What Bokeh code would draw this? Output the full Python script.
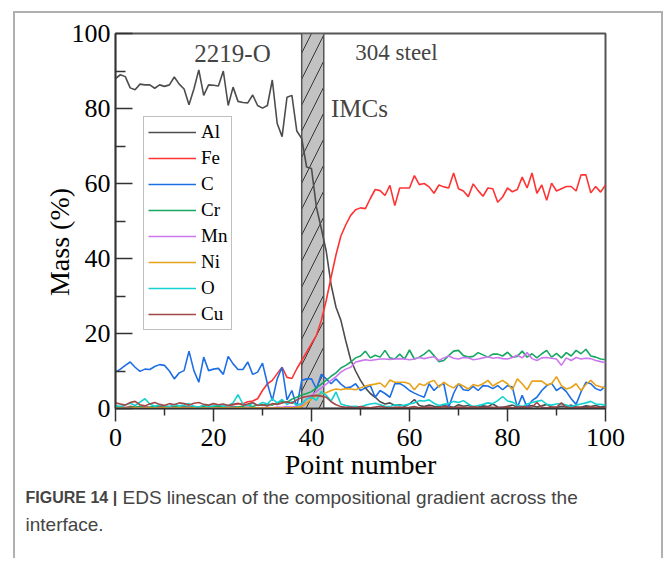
from bokeh.plotting import figure
from bokeh.models import Label, FixedTicker, Range1d
from bokeh.embed import file_html
from bokeh.resources import INLINE

# ---------------- data ----------------
point = list(range(101))

al = [88, 89, 88.5, 85.5, 85, 86.5, 86.3, 86.3, 85.4, 86.3,
      85.9, 86.3, 88.4, 86.5, 85.2, 81, 85.2, 90.3, 83.5, 86.3,
      86.2, 86, 90, 80.8, 85.7, 81.9, 81.6, 81.5, 83.6, 80.8,
      80.1, 80.8, 87.6, 76, 72.5, 83, 83.5, 74, 72, 64.4,
      64, 53.7, 48, 42, 33, 27, 23.5, 18, 13, 10,
      7.5, 5.5, 4, 3, 1.8, 1.2, 1.5, 0.8, 1.0, 0.6,
      1.2, 2.4, 0.8, 0.5, 0.9, 0.6, 0.4, 0.8, 0.5, 0.3,
      1.0, 0.6, 0.8, 0.4, 0.3, 0.7, 0.5, 1.2, 0.4, 0.3,
      0.6, 0.9, 0.4, 0.3, 0.5, 0.8, 0.4, 0.7, 1.1, 0.4,
      0.3, 0.6, 0.5, 0.9, 0.4, 0.3, 0.7, 0.5, 0.8, 0.4, 0.6]

fe = [0.3, 0.5, 0.2, 0.6, 0.4, 0.3, 0.5, 0.2, 0.4, 0.6,
      0.3, 0.5, 0.4, 0.2, 0.6, 0.3, 0.5, 0.4, 0.7, 0.3,
      0.5, 0.4, 0.6, 0.8, 1.0, 1.2, 1.3, 1.8, 2.0, 2.6,
      4.8, 6.6, 7.5, 9.3, 11, 8.3, 8.0, 10.6, 12.8, 15,
      17.3, 19.5, 23.5, 28.8, 35, 41, 46, 49, 51.5, 53,
      53.5, 53.3, 56, 58.4, 58.1, 56.8, 59.5, 54.1, 58.8, 58.8,
      58.8, 62.1, 59.7, 60, 59.1, 57.4, 59.6, 59.1, 58.8, 62.8,
      58.6, 58, 56.5, 59.9, 58.1, 56.6, 58.8, 58.6, 55, 56.4,
      58.8, 57.8, 58.4, 61.7, 58.8, 62.8, 57.4, 59.6, 55.5, 60.1,
      58, 58.6, 59.2, 59.2, 58, 62.3, 62.3, 57.5, 59.2, 57.7, 59.6]

c = [9.7, 10.5, 11.5, 12.4, 11, 9.9, 10.5, 10.4, 11.2, 11.7,
     11.5, 10, 7.9, 9.5, 10.1, 15.3, 10.1, 7, 13.7, 10.1,
     10.5, 10.7, 9.1, 13.9, 11.9, 10.4, 10.4, 12.4, 9.1, 9.7,
     12.1, 6.6, 2.1, 7.9, 11, 2.3, 4.8, 0.4, 7.5, 7.9,
     7.9, 5.2, 9.1, 7.9, 6.6, 7.9, 6.5, 5.5, 5.7, 6.6,
     4.8, 5.5, 6.1, 3, 4.8, 4, 3, 6.6, 6.7, 5.9,
     4.8, 4.1, 3.5, 3, 6.6, 4.8, 6.1, 6.6, 0.3, 4,
     6.6, 5, 4.8, 5.9, 4.8, 6.1, 6, 5.3, 6.1, 5,
     6.1, 5.7, 0.3, 3.5, 0.3, 2.1, 3, 4.8, 6.1, 6.7,
     4.8, 5.7, 4.5, 2.6, 1.1, 4.4, 7, 6.6, 5.3, 4.8, 6]

cr = [0.3, 0.5, 0.2, 0.4, 0.3, 0.6, 0.2, 0.4, 0.5, 0.3,
      0.4, 0.2, 0.5, 0.3, 0.4, 0.6, 0.3, 0.2, 0.5, 0.4,
      0.3, 0.6, 0.4, 0.3, 0.5, 0.4, 0.6, 0.8, 0.5, 1.0,
      0.8, 1.2, 0.9, 1.5, 2.0, 1.6, 2.5, 3.0, 3.6, 4.0,
      4.5, 5.5, 6.5, 7.5, 8.6, 9.5, 10.8, 11.5, 12.4, 13.5,
      14.0, 15.3, 13.5, 14.2, 13.7, 15.5, 13.5, 13.2, 14.5, 13.2,
      15.6, 13.2, 13.7, 14.5, 15.6, 14.1, 12.5, 12.8, 14.1, 15.3,
      15.5, 14.1, 13.7, 13.9, 14.9, 14.3, 13.7, 14.5, 14.5, 14,
      15, 13.7, 13.9, 15.3, 13.7, 14.6, 13.5, 14.6, 15.5, 13.7,
      14.7, 13.5, 14.9, 14, 15.5, 14.6, 15.8, 14, 13.7, 13.2, 13]

mn = [0.2, 0.1, 0.3, 0.2, 0.1, 0.2, 0.3, 0.1, 0.2, 0.2,
      0.1, 0.3, 0.2, 0.1, 0.2, 0.3, 0.2, 0.1, 0.2, 0.3,
      0.2, 0.1, 0.2, 0.2, 0.3, 0.1, 0.2, 0.3, 0.2, 0.1,
      0.2, 0.3, 0.2, 0.4, 0.3, 0.5, 0.4, 0.6, 0.8, 2.5,
      3.5, 4.5, 5.5, 6.5, 7.5, 8.5, 9.7, 10.5, 11, 12.4,
      12.7, 13, 12.8, 13, 13.2, 13.2, 13.1, 13.2, 13.3, 13.2,
      13, 13.2, 13.6, 13.3, 13.6, 13.8, 12.8, 13.5, 14, 13.4,
      13.2, 13.6, 13.5, 13, 13.2, 13.5, 13.8, 13.4, 13.6, 13.3,
      13.2, 13.6, 14.2, 13.5, 14.9, 13.3, 12.8, 13.5, 13.6, 13.4,
      13.2, 11.5, 13.5, 12.8, 13.6, 13.2, 13.4, 13.3, 12.8, 12.5, 12.2]

ni = [0.1, 0.2, 0.1, 0.1, 0.2, 0.1, 0.1, 0.2, 0.1, 0.1,
      0.2, 0.1, 0.1, 0.2, 0.1, 0.1, 0.2, 0.1, 0.1, 0.2,
      0.1, 0.1, 0.2, 0.1, 0.1, 0.2, 0.1, 0.1, 0.2, 0.1,
      0.1, 0.2, 0.1, 0.2, 0.1, 0.2, 0.2, 0.3, 0.5, 1.5,
      2.5, 3.5, 4, 4.2, 4.8, 5.2, 5, 5.3, 5.2, 5,
      5.5, 6, 6.3, 6.5, 6.8, 5.7, 7.6, 7, 7, 7,
      6.6, 5, 6.6, 6.1, 7, 7.5, 5.7, 7, 6.1, 5.5,
      6.6, 6, 5.2, 6.4, 6, 6.6, 7.5, 6, 6.8, 7.5,
      6.6, 5, 7.9, 6.6, 5, 7.3, 7.3, 7.3, 6.3, 6.6,
      8.5, 6.1, 5.2, 5.6, 6.6, 4.8, 6.4, 7.5, 6.2, 5.8, 5.5]

o = [0.8, 0.5, 1.0, 1.4, 0.8, 1.7, 2.6, 1.2, 0.6, 1.0,
     0.8, 0.5, 1.1, 0.7, 0.9, 1.3, 0.6, 0.4, 0.9, 0.5,
     0.7, 1.0, 0.6, 0.8, 1.5, 3.7, 1.2, 0.8, 1.4, 0.9,
     1.6, 1.2, 2.6, 1.5, 2.4, 1.1, 1.8, 0.9, 1.3, 2.5,
     3.0, 2.2, 4.5, 3.5, 2.0, 4.4, 1.2, 0.8, 0.5, 0.6,
     0.4, 0.9, 1.2, 1.4, 1.0, 0.6, 0.5, 1.0, 0.8, 0.9,
     1.2, 1.5, 2.1, 2.0, 2.3, 1.4, 0.8, 1.1, 1.3, 1.9,
     1.6, 2.1, 1.2, 0.5, 0.8, 1.1, 1.5, 1.3, 2.1, 3.2,
     2.0, 1.7, 0.9, 0.5, 1.2, 1.6, 1.9, 2.2, 1.1, 0.9,
     1.2, 1.3, 0.9, 0.5, 0.9, 1.2, 1.5, 1.9, 1.2, 1.1, 0.9]

cu = [1.5, 1.2, 0.9, 1.6, 1.9, 1.0, 0.7, 1.2, 1.6, 1.1,
      0.8, 1.3, 1.0, 1.5, 1.3, 0.9, 1.4, 1.6, 1.1, 0.9,
      1.3, 1.0, 1.2, 0.8, 1.1, 1.4, 0.9, 1.2, 1.6, 0.8,
      1.0, 0.7, 1.3, 1.1, 1.5, 1.8, 1.4, 2.3, 2.9, 3.2,
      3.4, 3.5, 3.3, 3.0, 1.8, 1.0, 0.5, 0.3, 0.4, 0.2,
      0.5, 0.3, 0.2, 0.4, 0.6, 0.3, 0.2, 0.3, 0.4, 0.2,
      0.3, 0.5, 0.2, 0.3, 0.4, 0.2, 0.3, 0.5, 0.3, 0.2,
      0.4, 0.3, 0.2, 0.5, 0.3, 0.2, 0.4, 0.3, 0.2, 0.3,
      0.4, 0.2, 0.3, 0.5, 0.3, 0.4, 1.6, 0.3, 0.2, 0.4,
      0.3, 1.5, 0.3, 0.2, 0.4, 0.3, 0.2, 0.4, 0.3, 0.2, 0.3]

series_names = ["Al", "Fe", "C", "Cr", "Mn", "Ni", "O", "Cu"]
series_values = [al, fe, c, cr, mn, ni, o, cu]
series_colors = ["#4d4d4d", "#ff3333", "#1e6fe6", "#16a862",
                 "#cc77ee", "#e8a21a", "#14d2d2", "#a34848"]

imc_band = [38, 42.5]
x_ticks = [0, 20, 40, 60, 80, 100]
x_minor = [10, 30, 50, 70, 90]
y_ticks = [0, 20, 40, 60, 80, 100]
y_minor = [10, 30, 50, 70, 90]

SERIF = "Liberation Serif"
SANS = "Liberation Sans"
NBSP = "\u00a0"

# ---------------- figure ----------------
p = figure(frame_width=490, frame_height=375,
           min_border_left=100, min_border_right=56,
           min_border_top=20, min_border_bottom=150,
           x_range=Range1d(0, 100), y_range=Range1d(0, 100),
           output_backend="svg", toolbar_location=None,
           background_fill_color="white", border_fill_color="white")
p.styles = {"margin-left": "13px", "margin-top": "11px",
            "border-left": "2px solid #b0b0b0",
            "border-top": "2px solid #b0b0b0",
            "border-right": "2px solid #b0b0b0"}

p.grid.visible = False
p.outline_line_color = "#555555"
p.outline_line_width = 2

# IMC band (hatched)
p.quad(left=[imc_band[0]], right=[imc_band[1]], bottom=[0], top=[100],
       fill_color="#c2c2c2", line_color="#555555", line_width=1.5,
       hatch_pattern="/", hatch_color="#333333", hatch_scale=26,
       hatch_weight=1)

for name, vals, col in zip(series_names, series_values, series_colors):
    p.line(point, vals, line_color=col, line_width=1.6, legend_label=name)

# axes
for ax in (p.xaxis[0], p.yaxis[0]):
    ax.axis_line_color = "#333333"
    ax.axis_line_width = 1.5
    ax.major_tick_line_color = "#333333"
    ax.minor_tick_line_color = "#333333"
    ax.major_tick_line_width = 1.5
    ax.minor_tick_line_width = 1.5
    ax.major_label_text_font = SERIF
    ax.major_label_text_font_size = "26px"
    ax.major_label_text_color = "black"
    ax.axis_label_text_font = SERIF
    ax.axis_label_text_font_size = "28px"
    ax.axis_label_text_font_style = "normal"
    ax.axis_label_text_color = "black"

p.xaxis.ticker = FixedTicker(ticks=x_ticks, minor_ticks=x_minor)
p.yaxis.ticker = FixedTicker(ticks=y_ticks, minor_ticks=y_minor)
p.xaxis.axis_label = "Point number"
p.yaxis.axis_label = "Mass (%)" + NBSP * 6

p.xaxis.major_tick_in = 0
p.xaxis.major_tick_out = 13
p.xaxis.minor_tick_in = 0
p.xaxis.minor_tick_out = 7
p.xaxis.major_label_standoff = 7
p.xaxis.axis_label_standoff = 0

p.yaxis.major_tick_in = 17
p.yaxis.major_tick_out = 0
p.yaxis.minor_tick_in = 10
p.yaxis.minor_tick_out = 0
p.yaxis.major_label_standoff = 5
p.yaxis.axis_label_standoff = -6

# legend
lg = p.legend[0]
lg.location = (28, 78)
lg.label_text_font = SERIF
lg.label_text_font_size = "19px"
lg.label_text_color = "black"
lg.glyph_width = 48
lg.glyph_height = 22
lg.label_height = 22
lg.label_width = 10
lg.spacing = 4
lg.padding = 4
lg.margin = 0
lg.label_standoff = 5
lg.border_line_color = "#808080"
lg.border_line_width = 1.5
lg.background_fill_alpha = 1

# text annotations inside the frame
p.add_layout(Label(x=117, y=355, x_units="screen", y_units="screen",
                   text="2219-O", text_font=SERIF, text_font_size="25px",
                   text_align="center", text_baseline="middle"))
p.add_layout(Label(x=281, y=356, x_units="screen", y_units="screen",
                   text="304 steel", text_font=SERIF, text_font_size="23px",
                   text_align="center", text_baseline="middle"))
p.add_layout(Label(x=244, y=300, x_units="screen", y_units="screen",
                   text="IMCs", text_font=SERIF, text_font_size="25px",
                   text_align="center", text_baseline="middle"))

# caption (below panel)
p.add_layout(Label(x=-90, y=2, x_units="screen", y_units="screen",
                   text="FIGURE 14 |", text_font=SANS, text_font_size="16px",
                   text_font_style="bold", text_baseline="alphabetic"), "below")
p.add_layout(Label(x=7, y=23, x_units="screen", y_units="screen",
                   text="EDS linescan of the compositional gradient across the",
                   text_font=SANS, text_font_size="19px",
                   text_baseline="alphabetic"), "below")
p.add_layout(Label(x=-90, y=17, x_units="screen", y_units="screen",
                   text="interface.", text_font=SANS, text_font_size="19px",
                   text_baseline="alphabetic"), "below")

open("out.html", "w").write(file_html(p, INLINE))
